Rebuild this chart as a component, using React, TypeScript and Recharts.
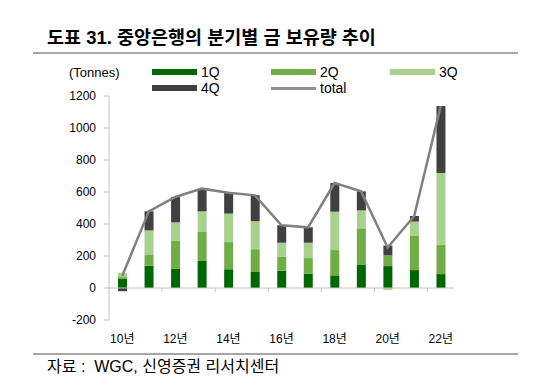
import React from "react";
import {
  ComposedChart,
  Bar,
  Line,
  XAxis,
  YAxis,
  ReferenceLine,
} from "recharts";

// years (category labels)
const years = [
  "10년", "11년", "12년", "13년", "14년", "15년", "16년",
  "17년", "18년", "19년", "20년", "21년", "22년",
];

// quarterly net purchases (tonnes)
const q1 = [56, 140, 119, 169, 117, 100, 108, 90, 79, 144, 137, 112, 87];
const q2 = [12, 70, 175, 181, 170, 142, 86, 97, 158, 229, 67, 213, 184];
const q3 = [27, 150, 116, 129, 178, 175, 89, 96, 240, 112, -12, 90, 448];
const q4 = [-20, 119, 159, 142, 131, 162, 109, 96, 179, 119, 61, 35, 418];
const total = [76, 479, 569, 621, 596, 579, 392, 379, 656, 604, 253, 450, 1137];

const yTicks = [1200, 1000, 800, 600, 400, 200, 0, -200];
const boundaryTicks = ["12년", "14년", "16년", "18년", "20년", "22년"];

const data = years.map((name, i) => ({
  name,
  q1: q1[i],
  q2: q2[i],
  q3: q3[i],
  q4: q4[i],
  total: total[i],
}));

const FONT = '"Liberation Sans", Arial, "Noto Sans CJK KR", sans-serif';
const AXIS = "#c0c0c0";

const colors = {
  q1: "#006600",
  q2: "#70ad47",
  q3: "#a9d18e",
  q4: "#404040",
  total: "#808080",
};

const legendItems = [
  { label: "1Q", color: colors.q1, left: 152, top: 69, line: false },
  { label: "2Q", color: colors.q2, left: 271, top: 69, line: false },
  { label: "3Q", color: colors.q3, left: 390, top: 69, line: false },
  { label: "4Q", color: colors.q4, left: 152, top: 85, line: false },
  { label: "total", color: "#909090", left: 271, top: 85, line: true },
];

export default function App() {
  return (
    <div
      style={{
        position: "absolute",
        left: 0,
        top: 0,
        width: 543,
        height: 388,
        background: "#fff",
        fontFamily: FONT,
        color: "#000",
      }}
    >
      {/* title */}
      <div
        style={{
          position: "absolute",
          left: 47,
          top: 27,
          fontSize: 18.5,
          fontWeight: "bold",
          lineHeight: "22px",
          whiteSpace: "nowrap",
        }}
      >
        도표 31. 중앙은행의 분기별 금 보유량 추이
      </div>
      <div
        style={{
          position: "absolute",
          left: 33,
          top: 52,
          width: 485,
          height: 2,
          background: "#a6a6a6",
        }}
      />

      {/* unit + legend */}
      <div
        style={{
          position: "absolute",
          left: 69,
          top: 65,
          fontSize: 13,
          lineHeight: "16px",
        }}
      >
        (Tonnes)
      </div>
      {legendItems.map((it) => (
        <div key={it.label}>
          <div
            style={{
              position: "absolute",
              left: it.left,
              top: it.line ? it.top + 2 : it.top,
              width: 45,
              height: it.line ? 3 : 6,
              background: it.color,
            }}
          />
          <div
            style={{
              position: "absolute",
              left: it.left + 49,
              top: it.top - 5,
              fontSize: 14,
              lineHeight: "16px",
            }}
          >
            {it.label}
          </div>
        </div>
      ))}

      {/* chart */}
      <div style={{ position: "absolute", left: 0, top: 0 }}>
        <ComposedChart
          width={543}
          height={388}
          data={data}
          stackOffset="sign"
          margin={{ top: 96, right: 89, bottom: 38, left: 0 }}
        >
          <XAxis
            dataKey="name"
            interval={1}
            height={30}
            axisLine={false}
            tickLine={false}
            tickSize={0}
            tickMargin={14}
            tick={{ fontSize: 12, fill: "#000", fontFamily: FONT }}
          />
          <YAxis
            domain={[-200, 1200]}
            ticks={yTicks}
            width={109}
            interval={0}
            axisLine={{ stroke: AXIS }}
            tickLine={{ stroke: AXIS }}
            tickSize={5}
            tickMargin={8}
            tick={{ fontSize: 12, fill: "#000", fontFamily: FONT }}
          />
          <ReferenceLine y={0} stroke={AXIS} />
          {boundaryTicks.map((c) => (
            <ReferenceLine
              key={c}
              position="start"
              segment={[
                { x: c, y: 0 },
                { x: c, y: -25 },
              ]}
              stroke={AXIS}
            />
          ))}
          <Bar dataKey="q1" stackId="a" fill={colors.q1} barSize={9} isAnimationActive={false} />
          <Bar dataKey="q2" stackId="a" fill={colors.q2} barSize={9} isAnimationActive={false} />
          <Bar dataKey="q3" stackId="a" fill={colors.q3} barSize={9} isAnimationActive={false} />
          <Bar dataKey="q4" stackId="a" fill={colors.q4} barSize={9} isAnimationActive={false} />
          <Line
            dataKey="total"
            stroke={colors.total}
            strokeWidth={2.5}
            dot={false}
            isAnimationActive={false}
          />
        </ComposedChart>
      </div>

      {/* footer */}
      <div
        style={{
          position: "absolute",
          left: 33,
          top: 353,
          width: 485,
          height: 2,
          background: "#a6a6a6",
        }}
      />
      <div
        style={{
          position: "absolute",
          left: 47,
          top: 357,
          fontSize: 16,
          lineHeight: "19px",
          whiteSpace: "nowrap",
        }}
      >
        자료 :&nbsp;&nbsp;WGC, 신영증권 리서치센터
      </div>
    </div>
  );
}
